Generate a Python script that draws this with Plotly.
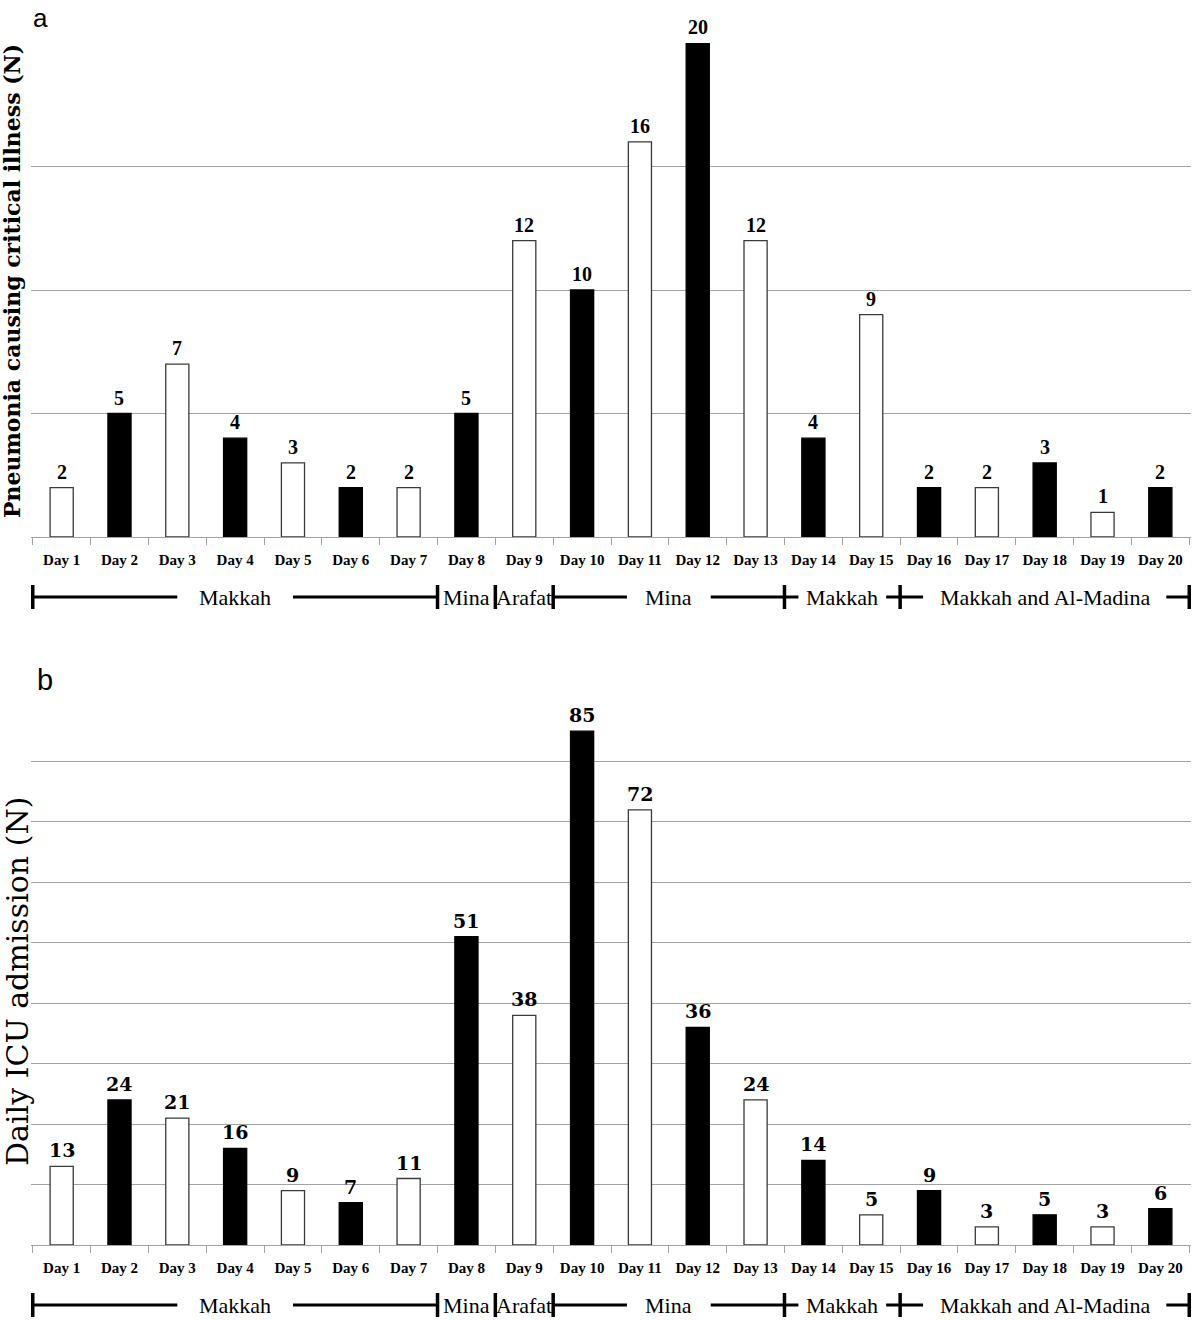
import plotly.graph_objects as go

# ---------------- data ----------------
days = ["Day 1", "Day 2", "Day 3", "Day 4", "Day 5", "Day 6", "Day 7", "Day 8", "Day 9", "Day 10",
        "Day 11", "Day 12", "Day 13", "Day 14", "Day 15", "Day 16", "Day 17", "Day 18", "Day 19", "Day 20"]
pneumonia = [2, 5, 7, 4, 3, 2, 2, 5, 12, 10, 16, 20, 12, 4, 9, 2, 2, 3, 1, 2]
icu_admission = [13, 24, 21, 16, 9, 7, 11, 51, 38, 85, 72, 36, 24, 14, 5, 9, 3, 5, 3, 6]

region_names = ["Makkah", "Mina", "Arafat", "Mina", "Makkah", "Makkah and Al-Madina"]
region_first_day = [1, 8, 9, 10, 14, 16]
region_last_day = [7, 8, 9, 13, 15, 20]

# ---------------- styling ----------------
W, H = 1200, 1320
ML, MR = 31, 9
PLOT_W = W - ML - MR
PX_PER_CAT = PLOT_W / len(days)
GRID = "#a3a3a3"
SERIF = "Liberation Serif"

def py(px):  # pixel row -> paper y (margins t=b=0)
    return 1 - px / H

fills = ["white" if i % 2 == 0 else "black" for i in range(len(days))]
lines = ["#3a3a3a" if i % 2 == 0 else "black" for i in range(len(days))]

fig = go.Figure()
fig.add_trace(go.Bar(
    x=days, y=pneumonia, xaxis="x", yaxis="y", width=0.4,
    marker=dict(color=fills, line=dict(color=lines, width=1.3)),
    showlegend=False, hoverinfo="skip"))
fig.add_trace(go.Bar(
    x=days, y=icu_admission, xaxis="x2", yaxis="y2", width=0.4,
    marker=dict(color=fills, line=dict(color=lines, width=1.3)),
    showlegend=False, hoverinfo="skip"))

xcommon = dict(type="category", domain=[0, 1], showline=True, linecolor=GRID, linewidth=1,
               ticks="outside", tickson="boundaries", ticklen=7, tickcolor=GRID,
               ticklabelstandoff=9,
               tickfont=dict(family=SERIF, size=15, color="black", weight="bold"),
               showgrid=False, zeroline=False, fixedrange=True)
ycommon = dict(showgrid=True, gridcolor=GRID, gridwidth=1, showticklabels=False,
               zeroline=False, ticks="", fixedrange=True)

fig.update_layout(
    width=W, height=H, margin=dict(l=ML, r=MR, t=0, b=0),
    plot_bgcolor="white", paper_bgcolor="white",
    xaxis=dict(xcommon, anchor="y"),
    yaxis=dict(ycommon, domain=[py(537), py(43)], range=[0, 20], dtick=5, anchor="x"),
    xaxis2=dict(xcommon, anchor="y2"),
    yaxis2=dict(ycommon, domain=[py(1245), py(701)], range=[0, 90], dtick=10, anchor="x2"),
)

annotations = [
    dict(text="a", x=10 / W, y=py(1), xref="paper", yref="paper", showarrow=False,
         font=dict(family="Liberation Sans", size=26, color="black"), xanchor="center", yanchor="top"),
    dict(text="b", x=14 / W, y=py(680), xref="paper", yref="paper", showarrow=False,
         font=dict(family="Liberation Sans", size=29, color="black"), xanchor="center", yanchor="middle"),
    dict(text="Pneumonia causing critical illness (N)", x=(12 - ML) / PLOT_W, y=py(281),
         xref="paper", yref="paper", showarrow=False, textangle=-90,
         font=dict(family="DejaVu Serif", size=22, color="black", weight="bold"),
         xanchor="center", yanchor="middle"),
    dict(text="Daily ICU admission (N)", x=(17 - ML) / PLOT_W, y=py(982),
         xref="paper", yref="paper", showarrow=False, textangle=-90,
         font=dict(family="DejaVu Serif", size=30, color="black"),
         xanchor="center", yanchor="middle"),
]

# value labels above bars
for xr, yr, vals, fam, size in (("x", "y", pneumonia, SERIF, 20), ("x2", "y2", icu_admission, "DejaVu Serif", 19)):
    for d, v in zip(days, vals):
        annotations.append(dict(text=str(v), x=d, y=v, xref=xr, yref=yr, showarrow=False,
                                xanchor="center", yanchor="bottom", yshift=3,
                                font=dict(family=fam, size=size, color="black", weight="bold")))

# half-gap (px) left around each region label in its horizontal line
label_half_gap = {"Makkah and Al-Madina": 122, "Mina": 42}
shapes = []
for row_px, xr in ((597, "x"), (1305, "x2")):
    yc = py(row_px)
    ytop, ybot = py(row_px - 12), py(row_px + 12)
    bounds = sorted(set([f - 1.5 for f in region_first_day] + [l - 0.5 for l in region_last_day]))
    for b in bounds:
        shapes.append(dict(type="line", xref=xr, yref="paper", x0=b, x1=b, y0=ybot, y1=ytop,
                           line=dict(color="black", width=3.5)))
    for name, f, l in zip(region_names, region_first_day, region_last_day):
        left, right = f - 1.5, l - 0.5
        center = (left + right) / 2
        if l > f:
            if name == "Makkah":
                hg = 58 if l - f > 3 else 44
            else:
                hg = label_half_gap[name]
            g = hg / PX_PER_CAT
            for a0, a1 in ((left, center - g), (center + g, right)):
                shapes.append(dict(type="line", xref=xr, yref="paper", x0=a0, x1=a1, y0=yc, y1=yc,
                                   line=dict(color="black", width=3)))
        annotations.append(dict(text=name, x=center, y=yc, xref=xr, yref="paper", showarrow=False,
                                font=dict(family=SERIF, size=22, color="black"),
                                xanchor="center", yanchor="middle"))

fig.update_layout(shapes=shapes, annotations=annotations)
fig.write_html("out.html", config={"displayModeBar": False},
               post_script="document.body.style.margin='0';document.body.style.overflow='hidden';")
